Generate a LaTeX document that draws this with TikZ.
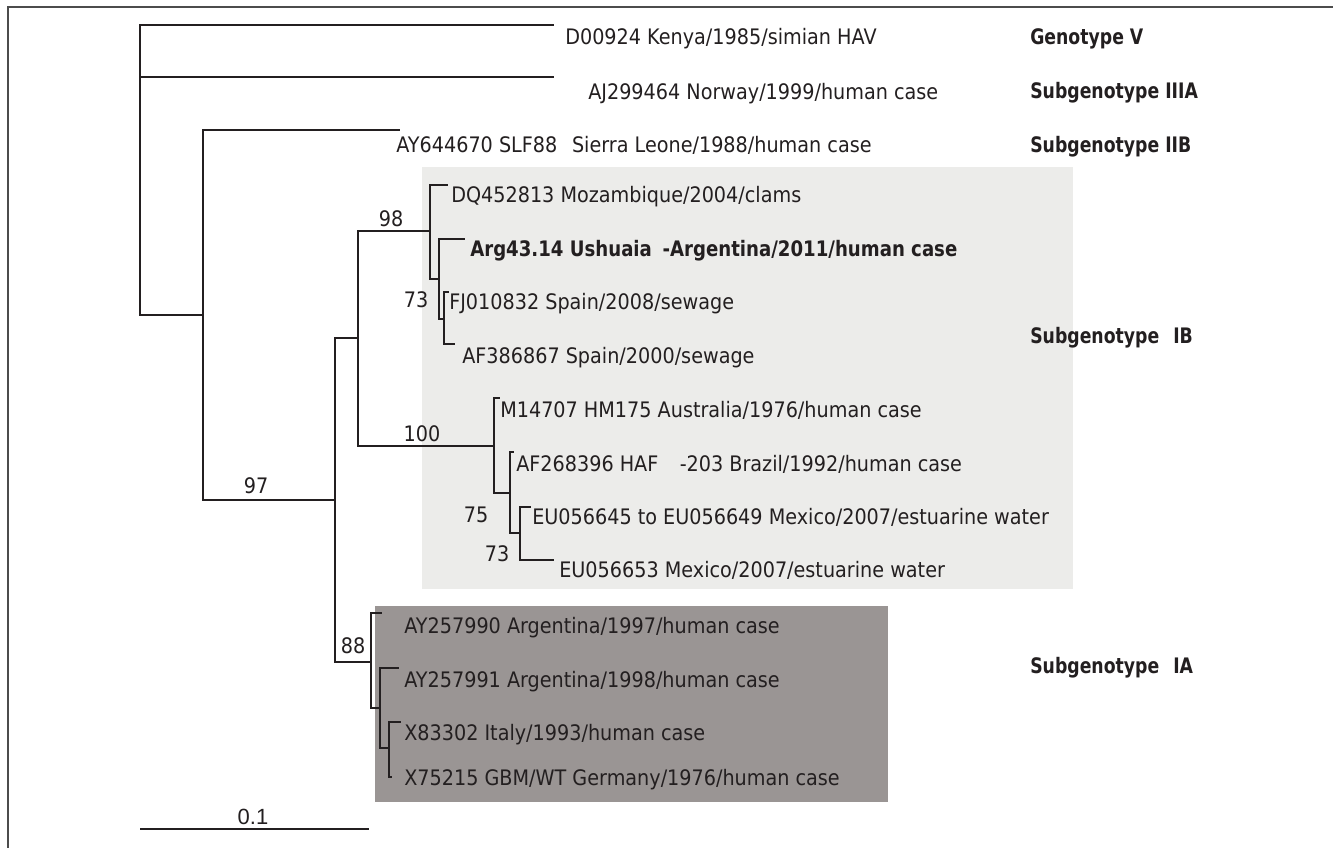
\documentclass[tikz,border=0pt]{standalone}
\usepackage{fontspec}
\setmainfont{DejaVu Sans}[FakeStretch=0.9]
\newfontfamily\boldfam{DejaVu Sans}[FakeStretch=0.81]
\newfontfamily\argfam{DejaVu Sans}[FakeStretch=0.85]
\newfontfamily\barfont{Liberation Sans}
\definecolor{lightbox}{RGB}{236,236,234}
\definecolor{darkbox}{RGB}{154,149,148}
\definecolor{ink}{RGB}{35,31,32}
\begin{document}
\begin{tikzpicture}[x=0.75pt,y=-0.75pt,
  branch/.style={line width=1.4pt, draw=ink, line cap=rect},
  leaf/.style={anchor=base west, inner sep=0pt, font=\fontsize{16}{19}\selectfont, text=ink},
  boldleaf/.style={anchor=base west, inner sep=0pt, font=\boldfam\bfseries\fontsize{16}{19}\selectfont, text=ink},
  boot/.style={anchor=base, inner sep=0pt, font=\fontsize{16}{19}\selectfont, text=ink},
  grp/.style={boldleaf},
  frame/.style={line width=1.5pt, draw=black!70},
]
\useasboundingbox (0,0) rectangle (1333,848);

% shaded group boxes
\fill[lightbox] (422,167) rectangle (1073,589);
\fill[darkbox] (375,606) rectangle (888,802);

% frame (top and left only)
\coordinate (fbl) at (8,848);
\coordinate (ftl) at (8,7);
\coordinate (ftr) at (1333,7);
\draw[frame] (fbl) -- (ftl) -- (ftr);

% internal nodes
\coordinate (root) at (140,170);
\coordinate (n203) at (203,315);
\coordinate (n335) at (335,500);
\coordinate (n358) at (358,338);
\coordinate (n430) at (430,231);
\coordinate (n439) at (439,279);
\coordinate (n444) at (444,319);
\coordinate (n494) at (494,446);
\coordinate (n510) at (510,493);
\coordinate (n520) at (520,533);
\coordinate (n371) at (371,662);
\coordinate (n380) at (380,708);
\coordinate (n389) at (389,748);

% tips
\coordinate (tD) at (553,25);
\coordinate (tAJ) at (553,77);
\coordinate (tAY64) at (399,130);
\coordinate (tDQ) at (447,185);
\coordinate (tArg) at (464,239);
\coordinate (tFJ) at (448,292);
\coordinate (tAF38) at (454,344);
\coordinate (tM14) at (499,398);
\coordinate (tAF26) at (513,452);
\coordinate (tEU45) at (530,507);
\coordinate (tEU53) at (553,560);
\coordinate (tAY90) at (381,613);
\coordinate (tAY91) at (398,668);
\coordinate (tX83) at (400,722);
\coordinate (tX75) at (391,777);

% branches
\draw[branch] (root) |- (tD);
\draw[branch] (root) |- (tAJ);
\draw[branch] (root) |- (n203);
\draw[branch] (n203) |- (tAY64);
\draw[branch] (n203) |- (n335);
\draw[branch] (n335) |- (n358);
\draw[branch] (n335) |- (n371);
\draw[branch] (n358) |- (n430);
\draw[branch] (n358) |- (n494);
\draw[branch] (n430) |- (tDQ);
\draw[branch] (n430) |- (n439);
\draw[branch] (n439) |- (tArg);
\draw[branch] (n439) |- (n444);
\draw[branch] (n444) |- (tFJ);
\draw[branch] (n444) |- (tAF38);
\draw[branch] (n494) |- (tM14);
\draw[branch] (n494) |- (n510);
\draw[branch] (n510) |- (tAF26);
\draw[branch] (n510) |- (n520);
\draw[branch] (n520) |- (tEU45);
\draw[branch] (n520) |- (tEU53);
\draw[branch] (n371) |- (tAY90);
\draw[branch] (n371) |- (n380);
\draw[branch] (n380) |- (tAY91);
\draw[branch] (n380) |- (n389);
\draw[branch] (n389) |- (tX83);
\draw[branch] (n389) |- (tX75);

% leaf labels
\node[leaf] (lD) at (565,45) {D00924 Kenya/1985/simian HAV};
\node[leaf] (lAJ) at (588,100) {AJ299464 Norway/1999/human case};
\node[leaf] (lAY64) at (396,153) {AY644670 SLF88\hspace{11pt}Sierra Leone/1988/human case};
\node[leaf] (lDQ) at (451,203) {DQ452813 Mozambique/2004/clams};
\node[boldleaf, font=\argfam\bfseries\fontsize{16}{19}\selectfont] (lArg) at (470,257) {Arg43.14 Ushuaia\hspace{8pt}-Argentina/2011/human case};
\node[leaf] (lFJ) at (449,310) {FJ010832 Spain/2008/sewage};
\node[leaf] (lAF38) at (462,363) {AF386867 Spain/2000/sewage};
\node[leaf] (lM14) at (500,417) {M14707 HM175 Australia/1976/human case};
\node[leaf] (lAF26) at (516,471) {AF268396 HAF\hspace{16pt}-203 Brazil/1992/human case};
\node[leaf] (lEU45) at (532,524) {EU056645 to EU056649 Mexico/2007/estuarine water};
\node[leaf] (lEU53) at (559,577) {EU056653 Mexico/2007/estuarine water};
\node[leaf] (lAY90) at (404,633) {AY257990 Argentina/1997/human case};
\node[leaf] (lAY91) at (404,687) {AY257991 Argentina/1998/human case};
\node[leaf] (lX83) at (404,740) {X83302 Italy/1993/human case};
\node[leaf] (lX75) at (404,785) {X75215 GBM/WT Germany/1976/human case};

% group labels
\node[grp] (gV) at (1030,45) {Genotype V};
\node[grp] (gIIIA) at (1030,99) {Subgenotype IIIA};
\node[grp] (gIIB) at (1030,153) {Subgenotype IIB};
\node[grp] (gIB) at (1030,343) {Subgenotype\hspace{10.5pt}IB};
\node[grp] (gIA) at (1030,673) {Subgenotype\hspace{10.5pt}IA};

% bootstrap values
\node[boot] (b98) at (391,227) {98};
\node[boot] (b73a) at (416,307) {73};
\node[boot] (b100) at (422,441) {100};
\node[boot] (b97) at (256,493) {97};
\node[boot] (b75) at (476,522) {75};
\node[boot] (b73b) at (497,561) {73};
\node[boot] (b88) at (353,653) {88};

% scale bar
\coordinate (sb1) at (140,829);
\coordinate (sb2) at (369,829);
\draw[branch, line cap=butt] (sb1) -- (sb2);
\node[anchor=base, inner sep=0pt, font=\barfont\fontsize{16.5}{19}\selectfont, text=ink] (sbl) at (253,824) {0.1};
\end{tikzpicture}
\end{document}
